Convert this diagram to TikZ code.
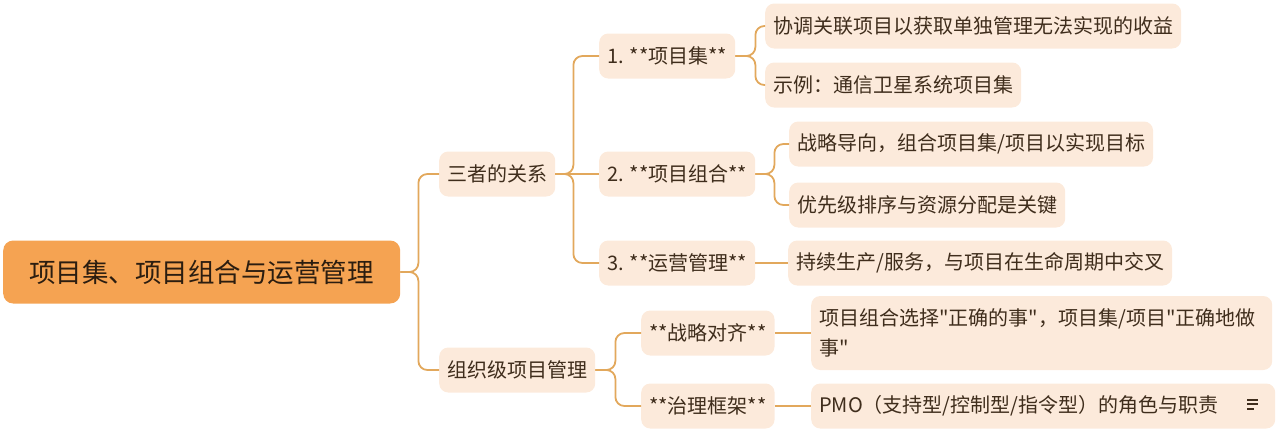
\documentclass[tikz,border=0pt]{standalone}
\usepackage{fontspec}
\usetikzlibrary{calc}
\setmainfont{Noto Sans CJK SC}[Ligatures=TeXOff]
\definecolor{nodefill}{HTML}{FCEADB}
\definecolor{rootfill}{HTML}{F5A352}
\definecolor{linkc}{HTML}{E2A85C}
\definecolor{txtc}{HTML}{3F2D1C}
\definecolor{roottxt}{HTML}{2B1D10}
\tikzset{
  topic/.style={fill=nodefill, rounded corners=9pt, text=txtc, anchor=west,
    inner xsep=8pt, inner ysep=0pt, minimum height=45pt,
    font=\fontsize{20}{30}\selectfont},
  roottopic/.style={fill=rootfill, rounded corners=10pt, text=roottxt,
    anchor=west, inner xsep=0pt, minimum width=397pt, minimum height=63pt,
    font=\fontsize{26.5}{30}\selectfont},
  link/.style={draw=linkc, line width=1.8pt, rounded corners=9pt}
}
\begin{document}
\begin{tikzpicture}[x=1pt,y=-1pt]
\useasboundingbox (0,0) rectangle (1279,432);
% nodes
\node[roottopic] (root) at (3,272) {项目集、项目组合与运营管理};
\node[topic] (rel) at (439,174) {三者的关系};
\node[topic] (org) at (439,370) {组织级项目管理};
\node[topic] (p1) at (599,56) {1. **项目集**};
\node[topic] (p2) at (599,174) {2. **项目组合**};
\node[topic] (p3) at (599,263) {3. **运营管理**};
\node[topic] (l1a) at (765,26) {协调关联项目以获取单独管理无法实现的收益};
\node[topic] (l1b) at (765,85) {示例：通信卫星系统项目集};
\node[topic] (l2a) at (789,144) {战略导向，组合项目集/项目以实现目标};
\node[topic] (l2b) at (789,205) {优先级排序与资源分配是关键};
\node[topic] (l3) at (788,263) {持续生产/服务，与项目在生命周期中交叉};
\node[topic] (s1) at (641,333) {**战略对齐**};
\node[topic] (s2) at (641,406) {**治理框架**};
\node[topic, minimum height=74pt, align=left, text width=445pt] (t1) at (811,333)
  {项目组合选择"正确的事"，项目集/项目"正确地做\\事"};
\node[topic, text width=448pt] (t2) at (811,406)
  {PMO（支持型/控制型/指令型）的角色与职责};
% note icon
\coordinate (ic) at (1247,400);
\draw[txtc, line width=1.3pt] (ic) -- ++(11,0);
\draw[txtc, line width=1.3pt] ($(ic)+(0,4)$) -- ++(11,0);
\draw[txtc, line width=1.3pt] ($(ic)+(0,9)$) -- ++(7,0);
% connectors
\draw[link] (root.east) -- ++(18,0) |- (rel.west);
\draw[link] (root.east) -- ++(18,0) |- (org.west);
\draw[link] (rel.east) -- ++(18,0) |- (p1.west);
\draw[link] (rel.east) -- (p2.west);
\draw[link] (rel.east) -- ++(18,0) |- (p3.west);
\draw[link] (p1.east) -- ++(20,0) |- (l1a.west);
\draw[link] (p1.east) -- ++(20,0) |- (l1b.west);
\draw[link] (p2.east) -- ++(19,0) |- (l2a.west);
\draw[link] (p2.east) -- ++(19,0) |- (l2b.west);
\draw[link] (p3.east) -- (l3.west);
\draw[link] (org.east) -- ++(20,0) |- (s1.west);
\draw[link] (org.east) -- ++(20,0) |- (s2.west);
\draw[link] (s1.east) -- (t1.west);
\draw[link] (s2.east) -- (t2.west);
\end{tikzpicture}
\end{document}
